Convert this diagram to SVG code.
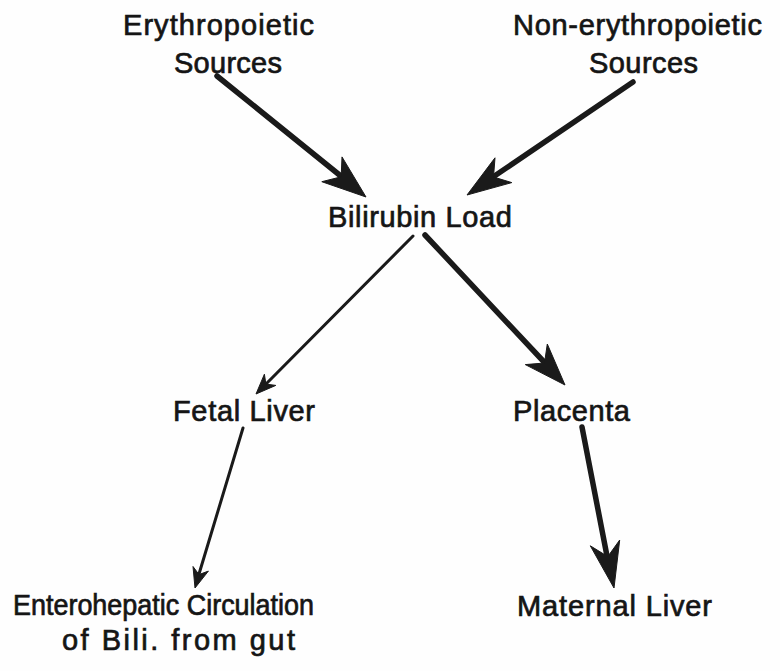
<svg xmlns="http://www.w3.org/2000/svg" width="780" height="671" viewBox="0 0 780 671">
<style>
.t{font-family:"Liberation Sans",Arial,sans-serif;font-size:29px;fill:#151515;stroke:#151515;stroke-width:0.7}
.thick{stroke:#1a1a1a;stroke-width:5.5;stroke-linecap:round;fill:none}
.thin{stroke:#1a1a1a;stroke-width:3;stroke-linecap:round;fill:none}
.head{fill:#1a1a1a;stroke:#1a1a1a;stroke-width:1;stroke-linejoin:miter}
</style>
<rect width="780" height="671" fill="#fefefe"/>
<g id="erythropoietic">
<text class="t" x="123" y="35" textLength="191" lengthAdjust="spacing">Erythropoietic</text>
<text class="t" x="174" y="73" textLength="108" lengthAdjust="spacing">Sources</text>
</g>
<g id="non-erythropoietic">
<text class="t" x="513" y="35" textLength="249" lengthAdjust="spacing">Non-erythropoietic</text>
<text class="t" x="589" y="73" textLength="109" lengthAdjust="spacing">Sources</text>
</g>
<g id="bilirubin-load">
<text class="t" x="328" y="227" textLength="184" lengthAdjust="spacing">Bilirubin Load</text>
</g>
<g id="fetal-liver">
<text class="t" x="173" y="421" textLength="142" lengthAdjust="spacing">Fetal Liver</text>
</g>
<g id="placenta">
<text class="t" x="513" y="421" textLength="117" lengthAdjust="spacing">Placenta</text>
</g>
<g id="enterohepatic">
<text class="t" x="13" y="615" textLength="301" lengthAdjust="spacingAndGlyphs">Enterohepatic Circulation</text>
<text class="t" x="62" y="650" textLength="233" lengthAdjust="spacing">of Bili. from gut</text>
</g>
<g id="maternal-liver">
<text class="t" x="517" y="616" textLength="195" lengthAdjust="spacing">Maternal Liver</text>
</g>
<g id="connectors">
<line class="thick" x1="217" y1="76" x2="342" y2="177"/>
<polygon class="head" points="366,197 321.8,181.7 341.2,176.8 342.0,156.9"/>
<line class="thick" x1="633" y1="82" x2="493" y2="177"/>
<polygon class="head" points="467,195 495,157.8 493.5,177 511.8,182.6"/>
<line class="thin" x1="413" y1="236" x2="266" y2="384"/>
<polygon class="head" points="256,394 264.4,374.2 265.9,384.1 275.8,385.4"/>
<line class="thick" x1="425" y1="235" x2="545" y2="363"/>
<polygon class="head" points="565,385 525.3,364.6 544.5,363 547.3,344.0"/>
<line class="thin" x1="243" y1="428" x2="199" y2="574"/>
<polygon class="head" points="195,588 193.0,566.5 199,574.6 208.4,571.1"/>
<line class="thick" x1="582" y1="427" x2="607" y2="556"/>
<polygon class="head" points="614,588 590.3,545.8 607.8,556.6 619.7,540.0"/>
</g>
</svg>
